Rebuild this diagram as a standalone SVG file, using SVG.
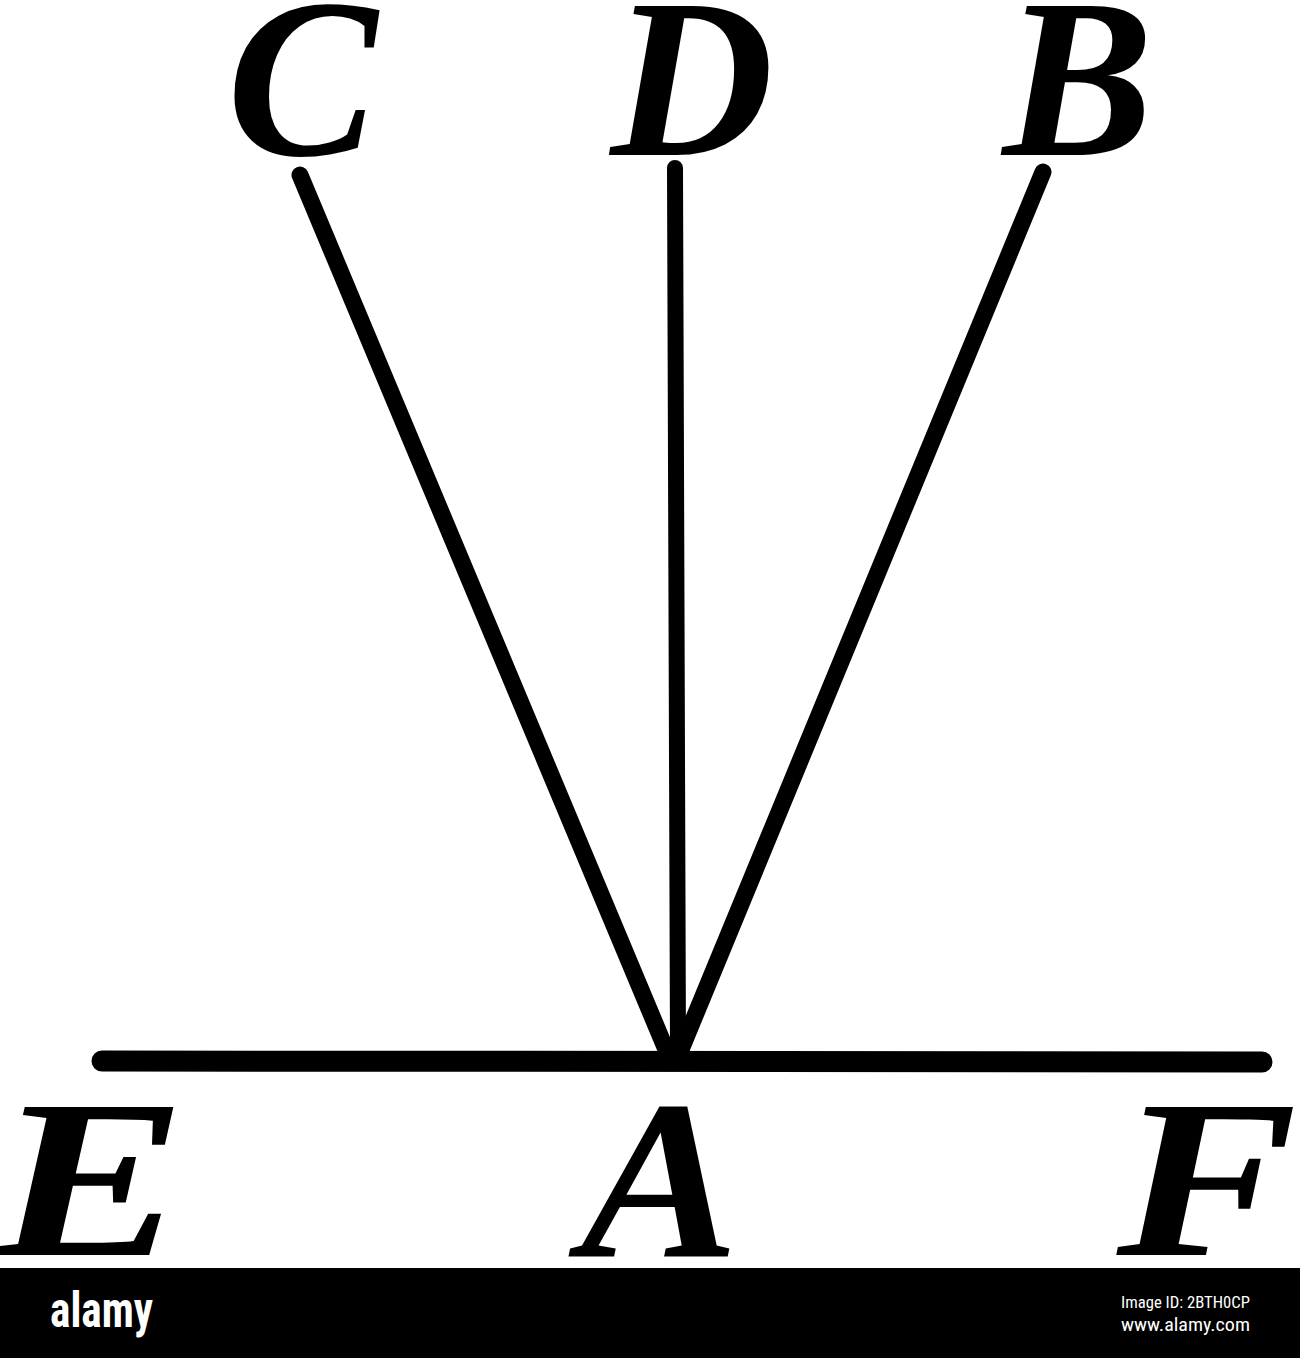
<svg xmlns="http://www.w3.org/2000/svg" width="1300" height="1358" viewBox="0 0 1300 1358">
<style>
.lbl{font-family:"Liberation Serif","DejaVu Serif",serif;font-style:italic;font-weight:bold;font-size:226px;fill:#000;text-anchor:middle}
.ln{stroke:#000;stroke-linecap:round;fill:none}
.wm{font-family:"Liberation Sans Narrow","Roboto Condensed","Liberation Sans",sans-serif;fill:#fff}
</style>
<rect width="1300" height="1358" fill="#fff"/>
<g id="connectors">
<line class="ln" x1="300" y1="175" x2="667" y2="1052" stroke-width="17"/>
<line class="ln" x1="675" y1="168" x2="678" y2="1052" stroke-width="16"/>
<line class="ln" x1="1043" y1="172" x2="680" y2="1052" stroke-width="17"/>
<line class="ln" x1="102" y1="1061" x2="1262" y2="1062" stroke-width="21"/>
</g>
<g id="node-C"><text class="lbl" x="302" y="155">C</text></g>
<g id="node-D"><text class="lbl" x="692" y="155">D</text></g>
<g id="node-B"><text class="lbl" x="1078" y="155">B</text></g>
<g id="node-E"><text class="lbl" transform="translate(90,1255) scale(1.28,1)">E</text></g>
<g id="node-A"><text class="lbl" transform="translate(660,1257) scale(1.05,1)">A</text></g>
<g id="node-F"><text class="lbl" transform="translate(1207,1255) scale(1.2,1)">F</text></g>
<g id="watermark">
<rect x="0" y="1268" width="1300" height="90" fill="#000"/>
<text class="wm" x="50" y="1327" font-size="50" font-weight="bold" textLength="103" lengthAdjust="spacingAndGlyphs">alamy</text>
<text class="wm" x="1121" y="1308" font-size="17" textLength="129" lengthAdjust="spacingAndGlyphs">Image ID: 2BTH0CP</text>
<text class="wm" x="1121" y="1331" font-size="19" textLength="129" lengthAdjust="spacingAndGlyphs">www.alamy.com</text>
</g>
</svg>
